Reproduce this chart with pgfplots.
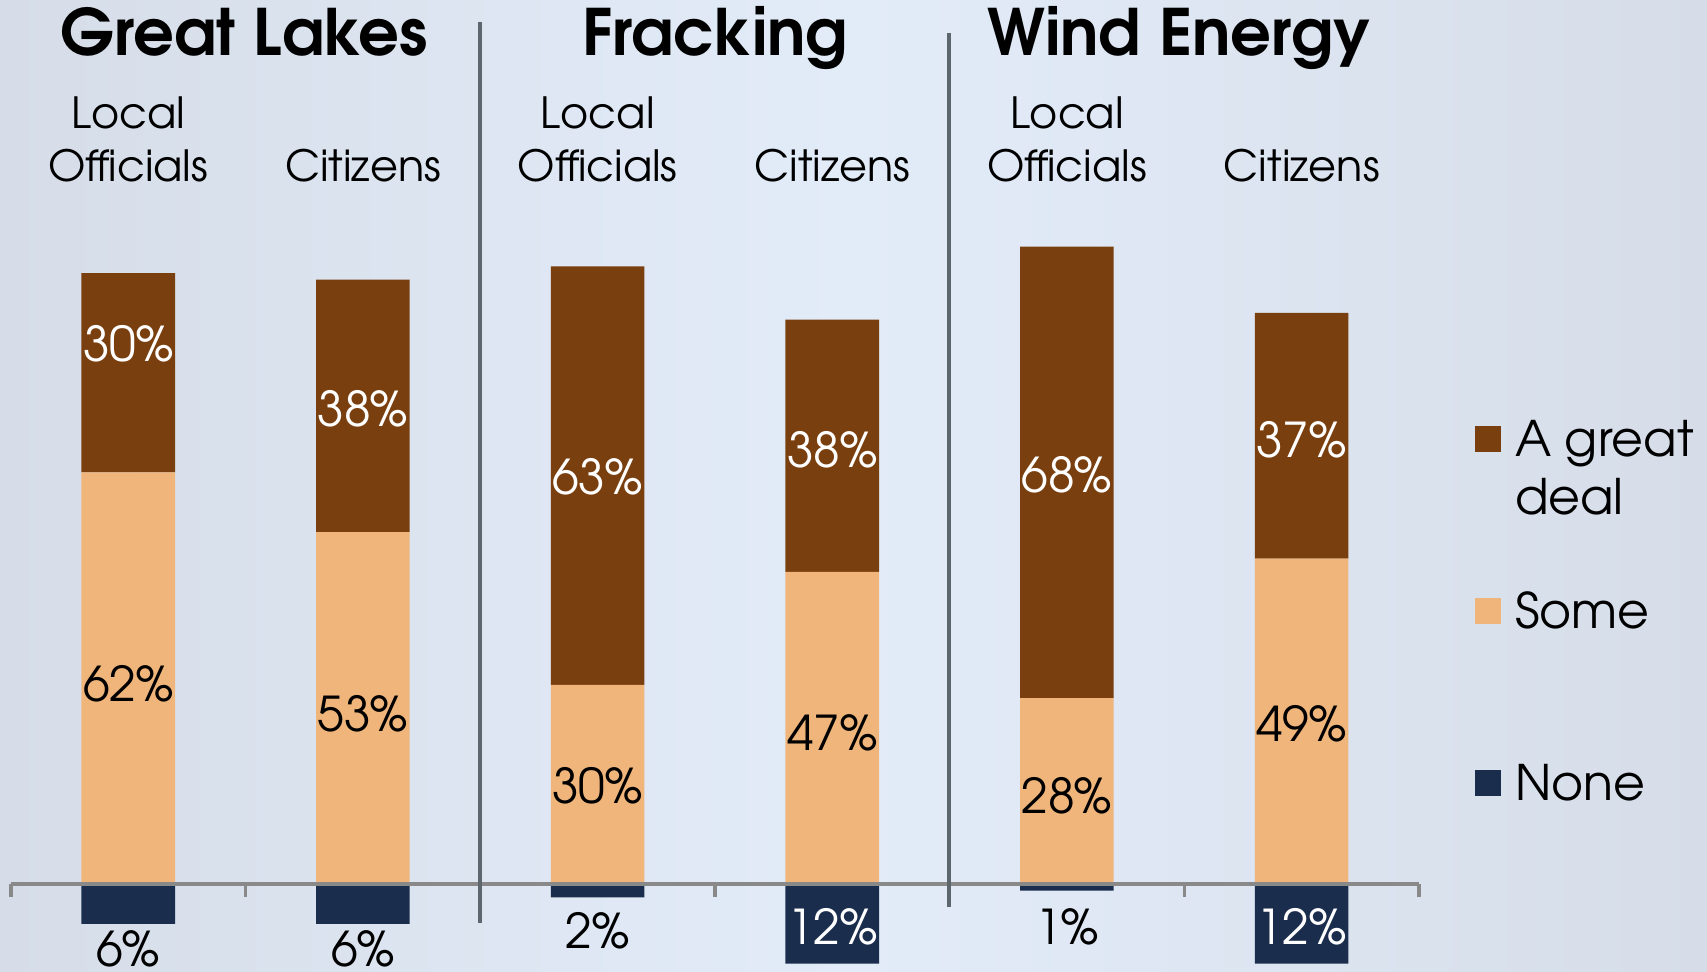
\documentclass[border=0pt]{standalone}
\usepackage{pgfplots}
\pgfplotsset{compat=1.18}
\usepackage{fontspec}
\setmainfont{texgyreadventor}[Extension=.otf, UprightFont=*-regular, BoldFont=*-bold, ItalicFont=*-italic, BoldItalicFont=*-bolditalic]
\definecolor{gd}{HTML}{7A3F0F}
\definecolor{some}{HTML}{F0B57B}
\definecolor{navy}{HTML}{1B2D4C}
\definecolor{axgray}{HTML}{898989}
\definecolor{sepgray}{HTML}{5E666D}
\definecolor{bgedge}{HTML}{D6DDE9}
\definecolor{bgmid}{HTML}{E2ECF8}
\newcommand{\agd}{\begin{tabular}[t]{@{}l@{}}A great\\deal\end{tabular}}
\pgfplotsset{
  base/.style={
    scale only axis, width=704pt, height=376pt,
    at={(5.45pt,0pt)}, anchor=south west,
    xmin=-0.5, xmax=5.5, ymin=-13.25, ymax=100,
    enlargelimits=false, clip=false,
  },
  sq/.style={legend image code/.code={\fill[##1] (0pt,12pt) rectangle (13pt,25pt);}},
}
\begin{document}
\begin{tikzpicture}
\shade[left color=bgedge, right color=bgedge, middle color=bgmid] (0,0) rectangle (853.5pt,486pt);
% positive stacked bars
\begin{axis}[base, hide axis, ybar stacked, bar width=46.8pt]
\addplot[fill=some, draw=none] coordinates {(0,62) (1,53) (2,30) (3,47) (4,28) (5,49)};
\addplot[fill=gd, draw=none] coordinates {(0,30) (1,38) (2,63) (3,38) (4,68) (5,37)};
\end{axis}
% negative bars, axis line and legend
\begin{axis}[base, axis x line=middle, axis y line=none, axis on top,
  axis line style={-, draw=axgray, line width=2.2pt},
  xtick={-0.5,0.5,1.5,2.5,3.5,4.5,5.5}, xticklabels={}, ytick=\empty,
  tick align=outside, major tick length=6.5pt,
  tick style={draw=axgray, line width=1.6pt},
  legend style={at={(1.03984,0.734)}, anchor=north west, draw=none, fill=none,
    inner sep=0pt, outer sep=0pt, row sep=30pt, column sep=7pt,
    font=\fontsize{24.5}{29}\selectfont,
    nodes={inner sep=0pt, text height=18pt, text depth=38pt}},
  legend cell align=left]
\addlegendimage{fill=gd, draw=none, sq}
\addlegendimage{fill=some, draw=none, sq}
\addplot[ybar, bar width=46.8pt, fill=navy, draw=none, sq] coordinates {(0,-6) (1,-6) (2,-2) (3,-12) (4,-1) (5,-12)};
\legend{\agd, Some, None}
% value labels
\begin{scope}[every node/.style={font=\fontsize{24}{28}\selectfont, inner sep=0pt}]
\node[white] at (axis cs:0,81.3) {30\%};
\node at (axis cs:0,30.2) {62\%};
\node at (axis cs:0,-9.7) {6\%};
\node[white] at (axis cs:1,71.5) {38\%};
\node at (axis cs:1,25.7) {53\%};
\node at (axis cs:1,-9.7) {6\%};
\node[white] at (axis cs:2,61.3) {63\%};
\node at (axis cs:2,14.8) {30\%};
\node at (axis cs:2,-7.1) {2\%};
\node[white] at (axis cs:3,65.4) {38\%};
\node at (axis cs:3,22.8) {47\%};
\node[white] at (axis cs:3,-6.5) {12\%};
\node[white] at (axis cs:4,61.6) {68\%};
\node at (axis cs:4,13.3) {28\%};
\node at (axis cs:4,-6.5) {1\%};
\node[white] at (axis cs:5,66.9) {37\%};
\node at (axis cs:5,24.1) {49\%};
\node[white] at (axis cs:5,-6.5) {12\%};
\end{scope}
\end{axis}
% separators
\draw[sepgray, line width=1.65pt] (240pt,475pt) -- (240pt,24.5pt);
\draw[sepgray, line width=1.65pt] (474.5pt,469.5pt) -- (474.5pt,32.5pt);
% titles
\begin{scope}[every node/.style={font=\bfseries\fontsize{32}{38}\selectfont, anchor=base, inner sep=0pt}]
\node at (122pt,458pt) {Great Lakes};
\node at (357.6pt,458pt) {Fracking};
\node at (589.5pt,458pt) {Wind Energy};
\end{scope}
% category labels
\begin{scope}[every node/.style={font=\fontsize{21.5}{25}\selectfont, anchor=base, inner sep=0pt}]
\node at (64.15pt,421.75pt) {Local};
\node at (64.15pt,395pt) {Officials};
\node at (181.5pt,395pt) {Citizens};
\node at (298.85pt,421.75pt) {Local};
\node at (298.85pt,395pt) {Officials};
\node at (416.2pt,395pt) {Citizens};
\node at (533.5pt,421.75pt) {Local};
\node at (533.5pt,395pt) {Officials};
\node at (650.9pt,395pt) {Citizens};
\end{scope}
\pgfresetboundingbox
\path[use as bounding box] (0,0) rectangle (853.5pt,486pt);
\end{tikzpicture}
\end{document}
